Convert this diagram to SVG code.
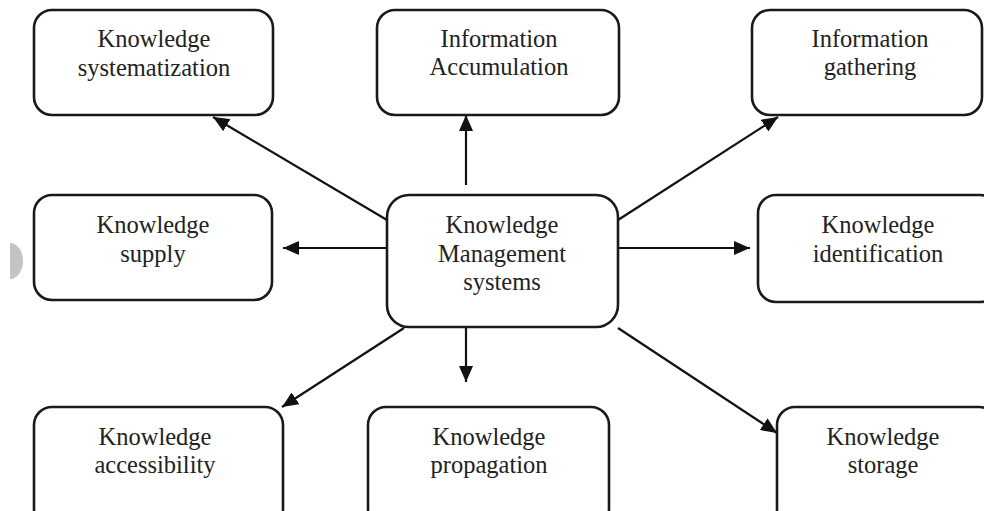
<svg xmlns="http://www.w3.org/2000/svg" width="984" height="511" viewBox="0 0 984 511">
  <defs>
    <marker id="arrow" viewBox="0 0 16 14" refX="16" refY="7" markerWidth="16" markerHeight="14" markerUnits="userSpaceOnUse" orient="auto">
      <path d="M0,0 L16,7 L0,14 Z" fill="#111"/>
    </marker>
    <style>
      .box { fill: #fff; stroke: #1a1a1a; stroke-width: 2.6; }
      .lbl { font-family: "Liberation Serif", "Times New Roman", serif; font-size: 24.5px; fill: #222; text-anchor: middle; }
      .conn line { stroke: #111; stroke-width: 2.2; marker-end: url(#arrow); }
    </style>
  </defs>
  <rect width="984" height="511" fill="#fff"/>

  <!-- side tab -->
  <path d="M10,243 A13,18 0 0 1 10,279 Z" fill="#c4c4c4"/>

  <g id="connectors" class="conn">
    <line x1="387" y1="220" x2="213" y2="117"/>
    <line x1="466" y1="185" x2="466" y2="115"/>
    <line x1="618" y1="220" x2="778" y2="117"/>
    <line x1="387" y1="248" x2="283" y2="248"/>
    <line x1="618" y1="248" x2="750" y2="248"/>
    <line x1="404" y1="328" x2="282" y2="407"/>
    <line x1="466" y1="328" x2="466" y2="382"/>
    <line x1="618" y1="328" x2="777" y2="433"/>
  </g>

  <g id="kms">
    <rect class="box" x="387" y="195" width="231" height="132" rx="22"/>
    <text class="lbl" x="502" y="233">Knowledge</text>
    <text class="lbl" x="502" y="262">Management</text>
    <text class="lbl" x="502" y="290">systems</text>
  </g>

  <g id="systematization">
    <rect class="box" x="34" y="10" width="239" height="105" rx="18"/>
    <text class="lbl" x="154" y="47">Knowledge</text>
    <text class="lbl" x="154" y="76">systematization</text>
  </g>

  <g id="accumulation">
    <rect class="box" x="377" y="10" width="242" height="105" rx="18"/>
    <text class="lbl" x="499" y="47">Information</text>
    <text class="lbl" x="499" y="75">Accumulation</text>
  </g>

  <g id="gathering">
    <rect class="box" x="752" y="10" width="230" height="105" rx="18"/>
    <text class="lbl" x="870" y="47">Information</text>
    <text class="lbl" x="870" y="75">gathering</text>
  </g>

  <g id="supply">
    <rect class="box" x="34" y="195" width="238" height="105" rx="18"/>
    <text class="lbl" x="153" y="233">Knowledge</text>
    <text class="lbl" x="153" y="262">supply</text>
  </g>

  <g id="identification">
    <rect class="box" x="758" y="195" width="240" height="107" rx="18"/>
    <text class="lbl" x="878" y="233">Knowledge</text>
    <text class="lbl" x="878" y="262">identification</text>
  </g>

  <g id="accessibility">
    <rect class="box" x="34" y="407" width="249" height="120" rx="18"/>
    <text class="lbl" x="155" y="445">Knowledge</text>
    <text class="lbl" x="155" y="473">accessibility</text>
  </g>

  <g id="propagation">
    <rect class="box" x="368" y="407" width="241" height="120" rx="18"/>
    <text class="lbl" x="489" y="445">Knowledge</text>
    <text class="lbl" x="489" y="473">propagation</text>
  </g>

  <g id="storage">
    <rect class="box" x="777" y="407" width="220" height="120" rx="18"/>
    <text class="lbl" x="883" y="445">Knowledge</text>
    <text class="lbl" x="883" y="473">storage</text>
  </g>
</svg>
